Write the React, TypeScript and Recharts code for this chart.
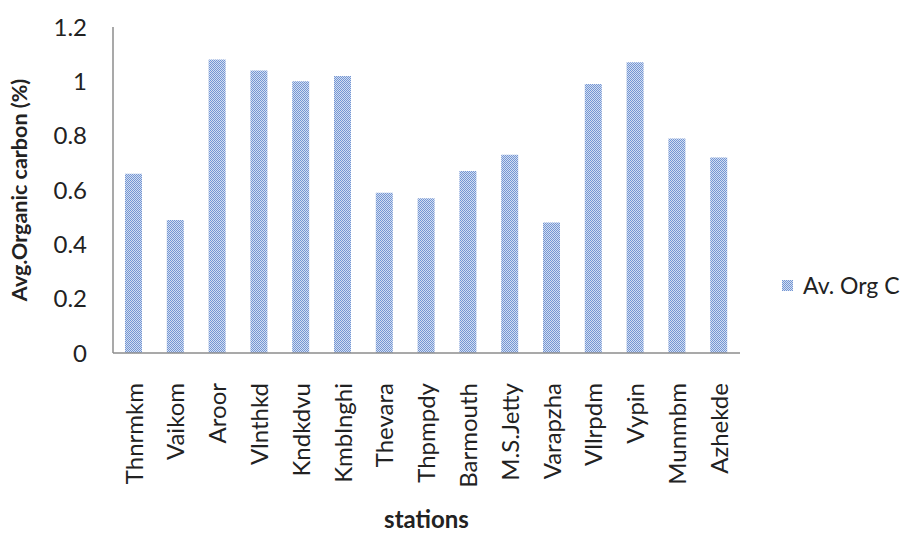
import { BarChart, Bar, XAxis, YAxis, Legend } from "recharts";

const stations = [
  "Thnrmkm",
  "Vaikom",
  "Aroor",
  "Vlnthkd",
  "Kndkdvu",
  "Kmblnghi",
  "Thevara",
  "Thpmpdy",
  "Barmouth",
  "M.S.Jetty",
  "Varapzha",
  "Vllrpdm",
  "Vypin",
  "Munmbm",
  "Azhekde",
];

const orgC = [0.66, 0.49, 1.08, 1.04, 1.0, 1.02, 0.59, 0.57, 0.67, 0.73, 0.48, 0.99, 1.07, 0.79, 0.72];

const yTicks = [0, 0.2, 0.4, 0.6, 0.8, 1, 1.2];

const data = stations.map((name, i) => ({ name, value: orgC[i] }));

const FONT = "Lato, 'Open Sans', sans-serif";

function StationTick(props: any) {
  const { x, y, payload } = props;
  return (
    <text
      x={x}
      y={y + 22}
      transform={`rotate(-90, ${x}, ${y + 22})`}
      textAnchor="end"
      dy="0.36em"
      fontSize={24}
      fontFamily={FONT}
      fill="#222"
    >
      {payload.value}
    </text>
  );
}

function LegendBox(props: any) {
  const items = props.payload || [];
  return (
    <div style={{ whiteSpace: "nowrap", fontFamily: FONT, fontSize: 23, color: "#222" }}>
      {items.map((it: any) => (
        <div key={it.value} style={{ display: "flex", alignItems: "center" }}>
          <svg width={11} height={11} style={{ marginRight: 10 }}>
            <rect width={11} height={11} fill="url(#dots)" />
          </svg>
          <span>{it.value}</span>
        </div>
      ))}
    </div>
  );
}

export default function App() {
  return (
    <div style={{ position: "absolute", left: 0, top: 0, background: "#fff" }}>
      <BarChart
        width={903}
        height={536}
        data={data}
        margin={{ top: 27, right: 38, bottom: 8, left: 0 }}
      >
        <defs>
          <pattern id="dots" width="2" height="2" patternUnits="userSpaceOnUse">
            <rect width="2" height="2" fill="#d3def2" />
            <rect x="0" y="0" width="1" height="1" fill="#7496d3" />
            <rect x="1" y="1" width="1" height="1" fill="#7496d3" />
          </pattern>
        </defs>
        <XAxis
          dataKey="name"
          interval={0}
          height={175}
          tickLine={false}
          axisLine={{ stroke: "#8c8c8c", strokeWidth: 1.5 }}
          tick={<StationTick />}
          label={{
            value: "stations",
            position: "insideBottom",
            offset: 0,
            style: { fontSize: 24, fontWeight: "bold", fontFamily: FONT, fill: "#222" },
          }}
        />
        <YAxis
          width={113}
          domain={[0, 1.2]}
          ticks={yTicks}
          interval={0}
          tickLine={false}
          tickSize={20}
          tickMargin={6}
          axisLine={{ stroke: "#8c8c8c", strokeWidth: 1.5 }}
          tick={{ fontSize: 24, fontFamily: FONT, fill: "#222" }}
          label={{
            value: "Avg.Organic carbon (%)",
            angle: -90,
            position: "insideLeft",
            offset: 0,
            dx: 19,
            style: { fontSize: 21.5, fontWeight: "bold", fontFamily: FONT, fill: "#222", textAnchor: "middle" },
          }}
        />
        <Legend
          layout="vertical"
          align="right"
          verticalAlign="middle"
          content={<LegendBox />}
          wrapperStyle={{ left: 782, top: 271, width: 125 }}
        />
        <Bar dataKey="value" name="Av. Org C" fill="url(#dots)" barSize={17} isAnimationActive={false} />
      </BarChart>
    </div>
  );
}
